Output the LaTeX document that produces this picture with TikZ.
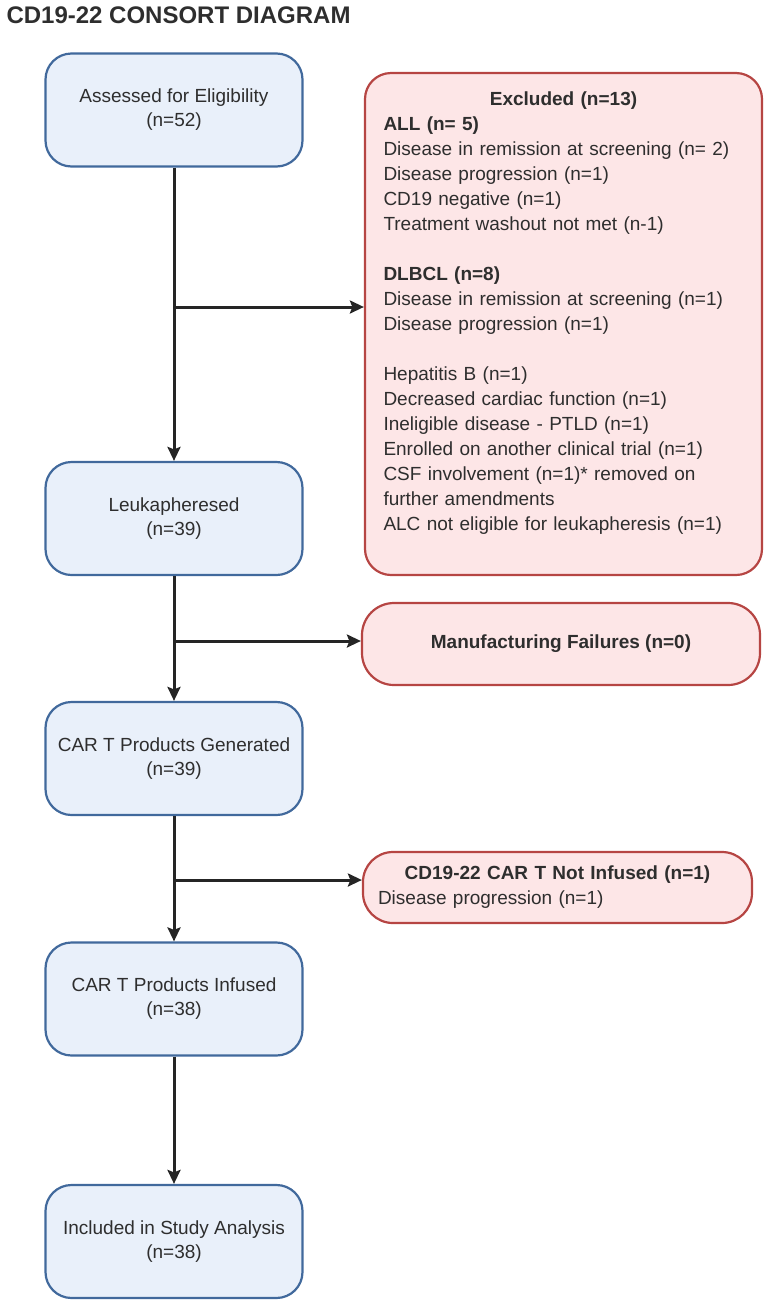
\documentclass[tikz,border=0pt]{standalone}
\usepackage{fontspec}
\setmainfont{Liberation Sans}
\usetikzlibrary{arrows.meta}
\definecolor{boxblue}{HTML}{E9F0FA}
\definecolor{lineblue}{HTML}{41699C}
\definecolor{boxred}{HTML}{FDE6E7}
\definecolor{linered}{HTML}{B64543}
\definecolor{ink}{HTML}{2E2E2E}
\tikzset{bx/.style = {draw=lineblue, fill=boxblue, line width=2.2pt, rounded corners=26pt,
        minimum width=257pt, minimum height=113pt, align=center, text=ink,
        font=\fontsize{19}{24}\selectfont},
    rx/.style = {draw=linered, fill=boxred, line width=2.2pt, rounded corners=26pt,
        text=ink, align=left, font=\fontsize{19}{25}\selectfont},
    ar/.style = {line width=3pt, draw=ink!80!black, -{Stealth[length=14pt,width=13pt,inset=2.5pt]}}}

\begin{document}
\begin{tikzpicture}[x=1pt, y=-1pt]
    \useasboundingbox (0,0) rectangle (765,1302);
    \node[anchor=base west, text=ink, font=\bfseries\fontsize{24}{28}\selectfont] (title) at (3,23) {CD19-22 CONSORT DIAGRAM};

    \foreach \n/\y/\t/\c in {assess/110/Assessed for Eligibility/52,
                             leuka/518.5/Leukapheresed/39,
                             gen/758.5/CAR T Products Generated/39,
                             inf/999/CAR T Products Infused/38,
                             incl/1241.5/Included in Study Analysis/38}
        \node[bx] (\n) at (174,\y) {\t\\(n=\c)};

    \node[rx, minimum width=397pt, minimum height=502pt, text width=360pt, inner xsep=18.5pt] (excl) at (563.5,324) {%
        \centerline{\bfseries Excluded (n=13)}
        \textbf{ALL (n= 5)}\\
        Disease in remission at screening (n= 2)\\
        Disease progression (n=1)\\
        CD19 negative (n=1)\\
        Treatment washout not met (n-1)\\[25pt]
        \textbf{DLBCL (n=8)}\\
        Disease in remission at screening (n=1)\\
        Disease progression (n=1)\\[25pt]
        Hepatitis B (n=1)\\
        Decreased cardiac function (n=1)\\
        Ineligible disease - PTLD (n=1)\\
        Enrolled on another clinical trial (n=1)\\
        CSF involvement (n=1)* removed on\\
        further amendments\\
        ALC not eligible for leukapheresis (n=1)\\
        \mbox{}};
    \node[rx, minimum width=398pt, minimum height=82pt, rounded corners=32pt, align=center] (manuf) at (561,644) {\textbf{Manufacturing Failures (n=0)}};
    \node[rx, minimum width=389pt, minimum height=71pt, rounded corners=30pt, text width=359pt, inner xsep=15pt] (notinf) at (557.5,887.5) {%
        \centerline{\bfseries CD19-22 CAR T Not Infused (n=1)}
        Disease progression (n=1)};

    \coordinate (j1) at (174,307);
    \coordinate (j2) at (174,641);
    \coordinate (j3) at (174,880);

    \draw[ar] (assess) -- (leuka);
    \draw[ar] (leuka) -- (gen);
    \draw[ar] (gen) -- (inf);
    \draw[ar] (inf) -- (incl);
    \draw[ar] (j1) -- (j1 -| excl.west);
    \draw[ar] (j2) -- (j2 -| manuf.west);
    \draw[ar] (j3) -- (j3 -| notinf.west);
\end{tikzpicture}
\end{document}
